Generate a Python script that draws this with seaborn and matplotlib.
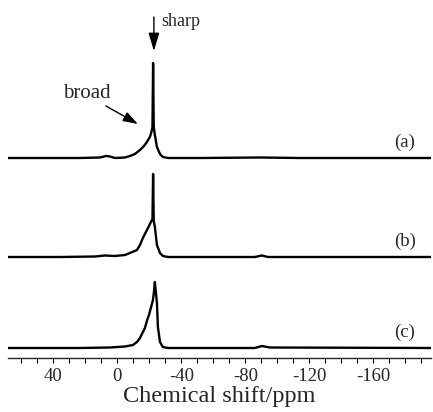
import numpy as np
import pandas as pd
import seaborn as sns
import matplotlib
matplotlib.use("Agg")
import matplotlib.pyplot as plt
from matplotlib.ticker import FixedLocator, MultipleLocator

# ---------------- data ----------------
# chemical shift (ppm) and intensity above each trace's baseline
ppm_a = [68.4, 48.4, 23.4, 10.9, 7.2, 4.7, 1.6, -4.7, -7.8, -10.9, -14.1, -16.6,
         -18.4, -20.3, -21.25, -21.9, -22.3, -22.7, -23.4, -24.7, -26.6, -28.4,
         -31.6, -51.6, -89.1, -114.0, -196.0]
int_a = [0, 0, 0, 0.5, 2, 1.5, 0, 0.5, 2, 4, 8, 12,
         16, 21, 26, 31, 95, 31, 23, 11, 4, 1,
         0, 0, 0.5, 0, 0]

ppm_b = [68.4, 36.0, 14.0, 7.8, 1.6, -4.7, -7.8, -12.2, -14.1, -15.9, -17.8,
         -19.1, -20.3, -21.3, -21.9, -22.3, -22.7, -23.4, -24.7, -26.6, -28.4,
         -31.6, -85.9, -90.3, -94.0, -196.0]
int_b = [0, 0, 0.5, 1.5, 1, 2, 4, 7, 12, 19, 25,
         29, 33, 36, 38, 83, 36, 30, 12, 4, 1,
         0, 0, 1.5, 0, 0]

ppm_c = [68.4, 23.4, 4.7, -4.7, -9.7, -12.2, -14.1, -15.9, -17.2, -18.4, -19.7,
         -20.9, -22.2, -22.9, -23.4, -24.7, -25.3, -26.6, -28.4, -31.6, -85.9,
         -90.3, -95.3, -196.0]
int_c = [0, 0, 0.5, 1.5, 3, 6, 10, 16, 20, 27, 33,
         40, 48, 57, 66, 45, 21, 6, 1, 0, 0,
         2, 0.5, 0]

trace_labels = ["(a)", "(b)", "(c)"]
tick_values = [40, 0, -40, -80, -120, -160]
x_label = "Chemical shift/ppm"

# ---------------- style ----------------
sns.set_theme(style="ticks")
plt.rcParams["font.family"] = ["Liberation Serif", "DejaVu Serif"]
plt.rcParams["axes.unicode_minus"] = False

fig = plt.figure(figsize=(4.33, 4.12), dpi=100)
ax = fig.add_axes([8 / 433, 1 - 358 / 412, 423 / 433, 358 / 412])

offsets = [200, 101, 10]
frames = []
for lab, xs, ys, off in zip(trace_labels, [ppm_a, ppm_b, ppm_c],
                            [int_a, int_b, int_c], offsets):
    frames.append(pd.DataFrame({"ppm": xs, "y": np.array(ys) + off, "trace": lab}))
df = pd.concat(frames, ignore_index=True)

sns.lineplot(data=df, x="ppm", y="y", units="trace", estimator=None, sort=False,
             color="black", lw=1.7, ax=ax, legend=False)

ax.set_xlim(68.4, -196)
ax.set_ylim(0, 358)

for lab, off in zip(trace_labels, offsets):
    ax.text(-179.5, off + 16, lab, ha="center", va="center", fontsize=13.5)

# annotations
ax.text(19.1, 265, "broad", ha="center", va="center", fontsize=15)
ax.text(-39.7, 332, "sharp", ha="center", va="baseline", fontsize=13)
ax.annotate("", xy=(-22.8, 307), xytext=(-22.8, 341),
            arrowprops=dict(arrowstyle="-|>,head_length=1.1,head_width=0.33",
                            mutation_scale=10, color="black", lw=1.0,
                            shrinkA=0, shrinkB=0))
ax.annotate("", xy=(-12.8, 234), xytext=(7.2, 252),
            arrowprops=dict(arrowstyle="-|>,head_length=0.9,head_width=0.3",
                            mutation_scale=10, color="black", lw=1.0,
                            shrinkA=0, shrinkB=0))

# axes
for s in ["left", "right", "top"]:
    ax.spines[s].set_visible(False)
ax.spines["bottom"].set_linewidth(1.0)
ax.set_yticks([])
ax.xaxis.set_major_locator(FixedLocator(tick_values))
ax.xaxis.set_minor_locator(MultipleLocator(10))
ax.tick_params(axis="x", which="both", direction="out", length=3.6, width=0.8,
               labelsize=13.5, pad=3.5, color="black")
ax.set_xticklabels([str(v) for v in tick_values])
ax.set_xlabel(x_label, fontsize=17.5, labelpad=1)
ax.set_ylabel("")

fig.savefig("out.png", dpi=100, facecolor="white")
